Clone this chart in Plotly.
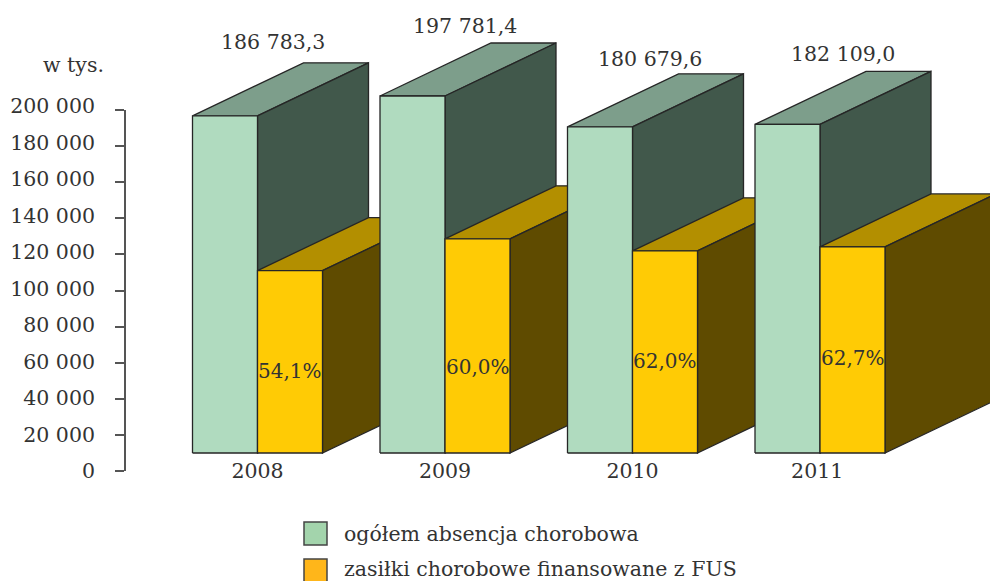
import plotly.graph_objects as go

W, H = 990, 581

years = ["2008", "2009", "2010", "2011"]
year_positions = [0, 1, 2, 2.985]
total = [186783.3, 197781.4, 180679.6, 182109.0]
fus = [101050.0, 118669.0, 112021.0, 114182.0]
total_labels = ["186 783,3", "197 781,4", "180 679,6", "182 109,0"]
share_labels = ["54,1%", "60,0%", "62,0%", "62,7%"]
tick_values = [0, 20000, 40000, 60000, 80000, 100000, 120000, 140000, 160000, 180000, 200000]
tick_labels = ["0", "20 000", "40 000", "60 000", "80 000", "100 000",
               "120 000", "140 000", "160 000", "180 000", "200 000"]
legend_names = ["ogółem absencja chorobowa", "zasiłki chorobowe finansowane z FUS"]

FONT = "DejaVu Serif"
SIZE = 20.5
TEXT = "#333333"
EDGE = "#262626"
GREEN = {"front": "#b0dbbf", "top": "#7d9e8b", "side": "#41584b"}
YELLOW = {"front": "#ffcb05", "top": "#b38f00", "side": "#5f4b00"}

# Pixel geometry of the plot
PX_PER_UNIT = 361 / 200000
STEP = 187.5
ZERO_X = 257.5
BASE_Y = 453
AXIS_TOP, AXIS_BOTTOM = 110, 471
LABEL_TOP, LABEL_BOTTOM = 106, 471
BAR_W = 65 / STEP
DX = 111 / STEP
DY = 53 / PX_PER_UNIT


def paper_x(px):
    return px / W


def paper_y(px):
    return 1 - px / H


fig = go.Figure()


def face(xs, ys, color):
    fig.add_trace(go.Scatter(
        x=xs + xs[:1], y=ys + ys[:1], mode="lines", fill="toself", fillcolor=color,
        line=dict(color=EDGE, width=1.3), hoverinfo="skip", showlegend=False,
        xaxis="x", yaxis="y2",
    ))


def box(x0, x1, value, palette):
    # back faces first, then the front face
    face([x0, x0 + DX, x1 + DX, x1], [value, value + DY, value + DY, value], palette["top"])
    face([x1, x1 + DX, x1 + DX, x1], [value, value + DY, DY, 0], palette["side"])
    face([x0, x1, x1, x0], [0, 0, value, value], palette["front"])


for i in range(len(years)):
    box(i - BAR_W, i, total[i], GREEN)
    box(i, i + BAR_W, fus[i], YELLOW)

# Invisible traces keep the value axes on the page
for axis in ("y", "y3"):
    fig.add_trace(go.Scatter(
        x=[0, 0], y=[0, 200000], mode="lines", line=dict(width=0), hoverinfo="skip",
        showlegend=False, xaxis="x", yaxis=axis,
    ))

annotations = []
# label offsets relative to each bar, in pixels
total_dx = [15, 20, 17, 23]
total_dy = [21, 17, 15, 17]
for i, t in enumerate(total_labels):
    annotations.append(dict(
        x=i, y=total[i] + DY, xref="x", yref="y2", text=t, showarrow=False,
        xshift=total_dx[i], yshift=total_dy[i], font=dict(family=FONT, size=SIZE, color=TEXT),
    ))
share_dy = [-9, -21, -9, -8]
for i, t in enumerate(share_labels):
    annotations.append(dict(
        x=i + BAR_W / 2, y=fus[i] / 2, xref="x", yref="y2", text=t, showarrow=False,
        yshift=share_dy[i], font=dict(family=FONT, size=SIZE - 0.5, color=TEXT),
    ))
annotations.append(dict(
    x=paper_x(73), y=paper_y(65), xref="paper", yref="paper", text="w tys.", showarrow=False,
    xanchor="center", yanchor="middle", font=dict(family=FONT, size=SIZE, color=TEXT),
))

# Legend swatches and their captions
shapes = []
swatches = [("#a3d4ac", 522, 545, 534), ("#ffb61a", 559, 582, 569)]
for (color, y0, y1, text_y), name in zip(swatches, legend_names):
    shapes.append(dict(
        type="rect", xref="paper", yref="paper", x0=paper_x(304), x1=paper_x(327),
        y0=paper_y(y0), y1=paper_y(y1), fillcolor=color, line=dict(color="#444444", width=1.5),
    ))
    annotations.append(dict(
        x=paper_x(342), y=paper_y(text_y), xref="paper", yref="paper", text=name,
        showarrow=False, xanchor="left", yanchor="middle",
        font=dict(family=FONT, size=SIZE, color=TEXT),
    ))

fig.update_layout(
    width=W, height=H, margin=dict(l=0, r=0, t=0, b=0),
    paper_bgcolor="white", plot_bgcolor="rgba(0,0,0,0)",
    showlegend=False, annotations=annotations, shapes=shapes,
    xaxis=dict(
        range=[-ZERO_X / STEP, (W - ZERO_X) / STEP], domain=[0, 1], automargin=False,
        anchor="free", position=paper_y(456), showgrid=False, zeroline=False,
        showline=False, ticks="", tickvals=year_positions, ticktext=years,
        tickfont=dict(family=FONT, size=SIZE, color=TEXT),
    ),
    # axis line and tick marks
    yaxis=dict(
        range=[0, 200000], domain=[paper_y(AXIS_BOTTOM), paper_y(AXIS_TOP)], automargin=False,
        anchor="free", position=paper_x(125), showgrid=False, zeroline=False,
        showline=True, linecolor="#555555", linewidth=1.5,
        ticks="outside", ticklen=9, tickwidth=1.5, tickcolor="#555555",
        tickvals=tick_values, showticklabels=False,
    ),
    # bars and their labels
    yaxis2=dict(
        range=[-(H - BASE_Y) / PX_PER_UNIT, BASE_Y / PX_PER_UNIT], domain=[0, 1],
        anchor="x", visible=False, automargin=False,
    ),
    # tick labels, set slightly above the tick marks
    yaxis3=dict(
        range=[0, 200000], domain=[paper_y(LABEL_BOTTOM), paper_y(LABEL_TOP)], automargin=False,
        anchor="free", position=paper_x(95), showgrid=False, zeroline=False,
        showline=False, ticks="", tickvals=tick_values, ticktext=tick_labels,
        tickfont=dict(family=FONT, size=SIZE, color=TEXT),
    ),
)

fig.write_html("out.html")
